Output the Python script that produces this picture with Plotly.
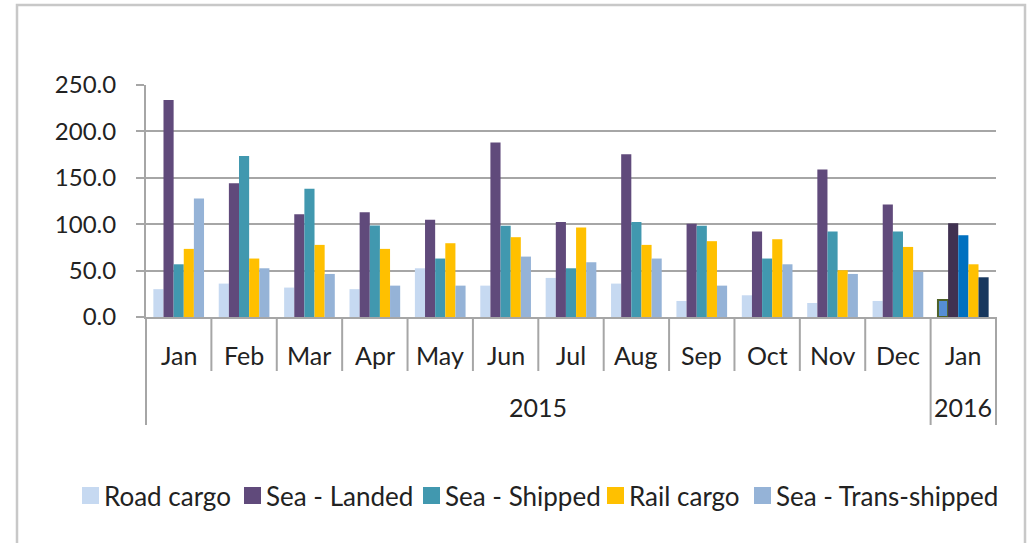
import plotly.graph_objects as go

# ---------------- data ----------------
months = ["Jan", "Feb", "Mar", "Apr", "May", "Jun", "Jul", "Aug", "Sep", "Oct", "Nov", "Dec", "Jan"]
years = ["2015"] * 12 + ["2016"]

road_cargo = [30.0, 36.0, 31.7, 30.0, 52.5, 33.8, 42.1, 36.0, 17.3, 23.4, 15.1, 17.3, 18.3]
sea_landed = [233.8, 144.2, 110.8, 113.0, 104.7, 188.1, 102.5, 175.5, 100.4, 92.1, 159.0, 121.2, 101.0]
sea_shipped = [56.8, 173.4, 138.1, 98.6, 63.0, 98.2, 52.5, 102.5, 98.2, 63.0, 92.1, 92.1, 88.1]
rail_cargo = [73.4, 63.0, 77.7, 73.4, 79.5, 86.0, 96.4, 77.7, 81.7, 83.8, 50.4, 75.5, 56.8]
sea_trans = [127.7, 52.5, 46.4, 33.8, 33.8, 65.1, 59.0, 63.0, 33.8, 56.8, 46.4, 48.6, 42.8]

series_names = ["Road cargo", "Sea - Landed", "Sea - Shipped", "Rail cargo", "Sea - Trans-shipped"]
series_values = [road_cargo, sea_landed, sea_shipped, rail_cargo, sea_trans]

y_ticks = [0, 50, 100, 150, 200, 250]

# ---------------- styles ----------------
base_colors = ["#C6D9F1", "#604A7B", "#4198AF", "#FFC000", "#95B3D7"]
last_colors = ["#558ED5", "#403151", "#0070C0", "#FFC000", "#17375E"]
last_outline = ["#4F6228", None, None, None, None]

FONT = "Lato, 'Noto Sans', 'DejaVu Sans', sans-serif"
TEXT_COLOR = "#222222"
AXIS_COLOR = "#A6A6A6"

W, H = 1032, 543
ML, MR, MT, MB = 146, 36, 85, 226
PW = W - ML - MR
PH = H - MT - MB


def px2x(px):
    return (px - ML) / PW


def px2y(py):
    return (H - MB - py) / PH


x_keys = [f"{m} {y}" for m, y in zip(months, years)]
n = len(x_keys)

fig = go.Figure()
for name, vals, c0, c1, oc in zip(series_names, series_values, base_colors, last_colors, last_outline):
    colors = [c0] * (n - 1) + [c1]
    lcolors = ["rgba(0,0,0,0)"] * (n - 1) + [oc if oc else "rgba(0,0,0,0)"]
    lwidths = [0] * (n - 1) + [2 if oc else 0]
    fig.add_trace(go.Bar(
        x=x_keys, y=vals, name=name,
        marker=dict(color=colors, line=dict(color=lcolors, width=lwidths)),
        showlegend=False,
    ))

shapes = []
annotations = []

# category dividers (inner) and group dividers (outer)
year_groups = []
for i, yr in enumerate(years):
    if not year_groups or year_groups[-1][0] != yr:
        year_groups.append([yr, i, i])
    else:
        year_groups[-1][2] = i
outer_bounds = set()
for yr, a, b in year_groups:
    outer_bounds.add(a)
    outer_bounds.add(b + 1)

inner_len = 54
outer_len = 108
for b in range(n + 1):
    xp = b / n
    length = outer_len if b in outer_bounds else inner_len
    shapes.append(dict(type="line", xref="paper", yref="paper",
                       x0=xp, x1=xp, y0=0, y1=-length / PH,
                       line=dict(color=AXIS_COLOR, width=2)))

# month labels
for i, m in enumerate(months):
    annotations.append(dict(x=x_keys[i], xref="x", y=0, yref="paper", yshift=-38,
                            text=m, showarrow=False, yanchor="middle", xanchor="center",
                            font=dict(family=FONT, size=25, color=TEXT_COLOR)))
# year labels
for yr, a, b in year_groups:
    annotations.append(dict(x=(a + b + 1) / 2 / n, xref="paper", y=0, yref="paper", yshift=-90,
                            text=yr, showarrow=False, yanchor="middle", xanchor="center",
                            font=dict(family=FONT, size=25, color=TEXT_COLOR)))

# legend (manual, matching the original layout)
legend_sq_x = [82, 244, 423, 607, 754]
sq = 17
legend_cy = 495.5
for name, c, lx in zip(series_names, base_colors, legend_sq_x):
    shapes.append(dict(type="rect", xref="paper", yref="paper",
                       x0=px2x(lx), x1=px2x(lx + sq), y0=px2y(legend_cy - sq / 2), y1=px2y(legend_cy + sq / 2),
                       fillcolor=c, line=dict(width=0)))
    annotations.append(dict(x=px2x(lx + sq + 3), xref="paper", y=px2y(legend_cy), yref="paper",
                            text=name, showarrow=False, xanchor="left", yanchor="middle",
                            font=dict(family=FONT, size=26, color=TEXT_COLOR)))

# outer chart frame
shapes.append(dict(type="rect", xref="paper", yref="paper",
                   x0=px2x(17), x1=px2x(1025), y0=px2y(560), y1=px2y(5),
                   line=dict(color="#C8C8C8", width=2.5), fillcolor="rgba(0,0,0,0)", layer="below"))

fig.update_layout(
    width=W, height=H, autosize=False,
    margin=dict(l=ML, r=MR, t=MT, b=MB, pad=0),
    paper_bgcolor="white", plot_bgcolor="white",
    barmode="group", bargap=0.225, bargroupgap=0,
    font=dict(family=FONT, size=24, color=TEXT_COLOR),
    shapes=shapes, annotations=annotations,
    xaxis=dict(type="category", categoryorder="array", categoryarray=x_keys,
               range=[-0.5, n - 0.5], showticklabels=False, ticks="",
               showline=True, linecolor=AXIS_COLOR, linewidth=2, showgrid=False, zeroline=False),
    yaxis=dict(range=[0, 250], tickvals=y_ticks, tickformat=".1f",
               showgrid=True, gridcolor=AXIS_COLOR, gridwidth=2,
               showline=True, linecolor=AXIS_COLOR, linewidth=2,
               ticks="outside", ticklen=8, tickwidth=2, tickcolor=AXIS_COLOR,
               ticklabelstandoff=15, zeroline=False,
               tickfont=dict(family=FONT, size=24, color=TEXT_COLOR)),
    showlegend=False,
)

fig.write_html("out.html", config={"displayModeBar": False},
               post_script="document.body.style.margin='0';")
